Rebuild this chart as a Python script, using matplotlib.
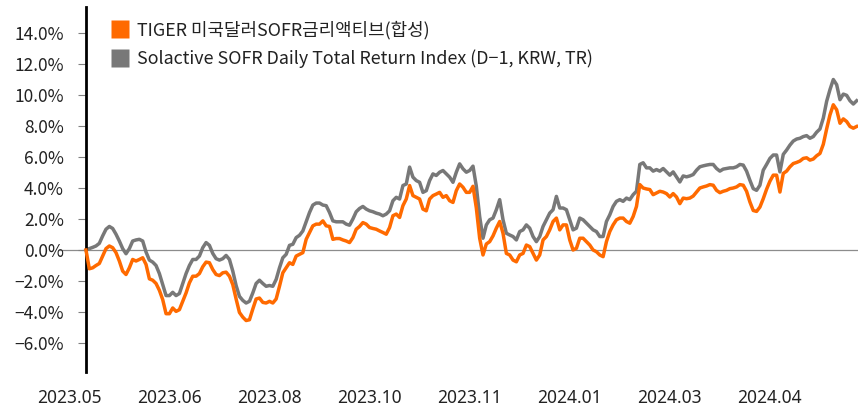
import matplotlib.pyplot as plt
from matplotlib.lines import Line2D
from matplotlib.ticker import FuncFormatter

ORANGE = "#FF6A00"
GRAY = "#787878"

# daily cumulative return (%)
tiger = [
    0.00, -1.21, -1.15, -1.00, -0.87, -0.39, 0.09, 0.26, 0.15, -0.17,
    -0.71, -1.36, -1.58, -1.15, -0.61, -0.71, -0.61, -0.50, -0.93, -1.86,
    -1.95, -2.16, -2.60, -3.20, -4.11, -4.11, -3.74, -3.96, -3.85, -3.31,
    -2.77, -2.12, -1.69, -1.69, -1.52, -1.08, -0.78, -0.82, -1.26, -1.58,
    -1.65, -1.47, -1.43, -1.69, -2.23, -3.16, -4.03, -4.33, -4.55, -4.50,
    -3.81, -3.16, -3.10, -3.38, -3.42, -3.31, -3.42, -3.16, -2.34,
    -1.47, -1.15, -0.82, -0.93, -0.39, -0.28, -0.17, 0.69, 1.13, 1.56,
    1.67, 1.67, 1.88, 1.56, 1.52, 0.69, 0.74, 0.74, 0.65, 0.58,
    0.48, 0.80, 1.34, 1.52, 1.77, 1.67, 1.45, 1.39, 1.34, 1.23,
    1.13, 1.02, 1.45, 2.21, 2.32, 2.10, 2.86, 3.29, 4.16, 3.51,
    3.40, 3.29, 2.64, 2.53, 3.29, 3.51, 3.61, 3.72, 3.40, 3.51,
    3.18, 3.07, 3.83, 4.26, 4.05, 3.72, 3.72,
    4.11, 2.71, 0.76, -0.32, 0.39, 0.54, 0.91, 1.41, 1.84, 1.08,
    -0.22, -0.32, -0.65, -0.76, -0.32, -0.22, 0.32, 0.22, -0.22, -0.65,
    -0.32, 0.65, 0.87, 1.30, 1.84, 2.06, 1.30, 1.62, 1.62, 0.65,
    0.00, 0.11, 0.76, 0.76, 0.54, 0.32, 0.00, -0.11, -0.32, -0.43,
    0.54, 1.19, 1.62, 1.95, 2.06, 2.06, 1.84, 1.73, 2.16, 2.81,
    4.22, 4.00, 3.94, 3.90, 3.57, 3.68, 3.79,
    3.74, 3.64, 3.42, 3.64, 3.42, 2.99, 3.35, 3.31, 3.35, 3.48,
    3.74, 4.00, 4.07, 4.13, 4.22, 4.18, 3.85, 3.70, 3.79, 3.85,
    3.96, 4.00, 4.07, 4.22, 4.18, 3.79, 3.10, 2.55, 2.49, 2.77,
    3.31, 3.92, 4.44, 4.83, 4.83, 3.74, 4.94, 5.09, 5.37, 5.58,
    5.65, 5.74, 5.91, 5.95, 5.80, 5.87, 6.08, 6.23, 6.82, 7.81,
    8.72, 9.37, 9.05, 8.18, 8.46, 8.29, 7.97, 7.86, 7.97,
]

solactive = [
    0.00, 0.09, 0.17, 0.26, 0.43, 0.91, 1.34, 1.52, 1.39, 1.02,
    0.58, 0.09, -0.24, 0.09, 0.58, 0.65, 0.69, 0.58, -0.13, -0.65,
    -0.78, -1.00, -1.52, -2.23, -2.94, -2.94, -2.73, -2.94, -2.81, -2.16,
    -1.52, -1.00, -0.61, -0.61, -0.39, 0.15, 0.48, 0.30, -0.22, -0.56,
    -0.65, -0.56, -0.35, -0.61, -1.36, -2.29, -2.99, -3.25, -3.42, -3.31,
    -2.77, -2.16, -1.95, -2.16, -2.34, -2.29, -2.34, -1.90, -1.15,
    -0.50, -0.28, 0.30, 0.37, 0.80, 0.95, 1.23, 1.82, 2.42, 2.90,
    3.03, 3.03, 2.90, 2.86, 2.42, 1.88, 1.82, 1.82, 1.82, 1.67,
    1.60, 2.00, 2.47, 2.68, 2.81, 2.64, 2.53, 2.47, 2.38, 2.32,
    2.21, 2.32, 2.53, 3.18, 3.40, 3.29, 4.16, 4.26, 5.35, 4.70,
    4.48, 4.37, 3.72, 3.83, 4.48, 4.91, 4.81, 5.02, 5.13, 4.91,
    4.70, 4.37, 5.02, 5.56, 5.24, 5.02, 5.13,
    5.41, 4.11, 2.16, 0.76, 1.62, 1.95, 2.06, 2.60, 3.25, 1.95,
    1.08, 0.97, 0.87, 0.65, 1.19, 1.30, 1.62, 1.41, 0.87, 0.54,
    0.87, 1.52, 1.95, 2.38, 2.60, 3.46, 2.71, 2.71, 2.60, 1.95,
    1.30, 1.41, 2.06, 1.95, 1.73, 1.52, 1.30, 1.19, 0.87, 0.87,
    1.84, 2.27, 2.81, 3.14, 3.25, 3.14, 3.35, 3.25, 3.57, 3.79,
    5.52, 5.63, 5.30, 5.30, 5.09, 5.19, 5.09,
    5.26, 5.04, 4.83, 5.04, 4.72, 4.39, 4.78, 4.72, 4.78, 4.87,
    5.15, 5.37, 5.43, 5.48, 5.52, 5.52, 5.26, 5.09, 5.22, 5.26,
    5.30, 5.30, 5.37, 5.52, 5.48, 5.09, 4.50, 3.96, 3.85, 4.18,
    5.15, 5.52, 5.91, 6.13, 6.13, 5.04, 6.17, 6.45, 6.77, 7.03,
    7.16, 7.21, 7.32, 7.38, 7.21, 7.32, 7.60, 7.81, 8.51, 9.59,
    10.35, 11.00, 10.67, 9.70, 10.06, 9.98, 9.63, 9.42, 9.63,
]

x_labels = ["2023.05", "2023.06", "2023.08", "2023.10",
            "2023.11", "2024.01", "2024.03", "2024.04"]
legend_labels = ["TIGER 미국달러SOFR금리액티브(합성)",
                 "Solactive SOFR Daily Total Return Index (D\u22121, KRW, TR)"]

plt.rcParams["font.family"] = ["Noto Sans CJK KR", "DejaVu Sans"]

fig = plt.figure(figsize=(8.58, 4.09), dpi=100)
ax = fig.add_axes([0.0691, 0.0905, 0.9309, 0.8924])

days = range(len(tiger))
ax.axhline(0, color="#8C8C8C", lw=0.9, zorder=1)
ax.plot(days, solactive, color=GRAY, lw=2.5, zorder=2, solid_joinstyle="round")
ax.plot(days, tiger, color=ORANGE, lw=2.5, zorder=3, solid_joinstyle="round")

ax.set_xlim(-8, len(tiger) - 0.6)
ax.set_ylim(-7.87, 15.68)

# y axis sits at the first data point, labels hang to the left of it
ax.spines["left"].set_position(("data", 0))
ax.spines["left"].set_linewidth(2.0)
ax.spines[["top", "right", "bottom"]].set_visible(False)

ax.set_yticks(range(-6, 15, 2))
ax.yaxis.set_major_formatter(FuncFormatter(lambda v, p: f"{v:.1f}%".replace("-", "\u2212")))
ax.tick_params(axis="y", length=6, width=0.8, color="#808080", labelsize=12.5, pad=10, labelcolor="#222222")

ax.set_xticks([-5 + 30 * i for i in range(len(x_labels))], x_labels)
ax.tick_params(axis="x", length=0, labelsize=12.5, pad=12, labelcolor="#222222")
for lbl in ax.get_xticklabels():
    lbl.set_fontfamily(["Noto Sans", "DejaVu Sans"])

handles = [
    Line2D([0], [0], marker="s", color="none", markerfacecolor=ORANGE, markeredgecolor="none", markersize=13),
    Line2D([0], [0], marker="s", color="none", markerfacecolor=GRAY, markeredgecolor="none", markersize=13),
]
fig.legend(handles, legend_labels, loc="upper left", bbox_to_anchor=(0.129, 0.95),
           frameon=False, fontsize=12.9, handlelength=1.0, handletextpad=0.45,
           labelspacing=0.58, borderpad=0, borderaxespad=0, labelcolor="#222222")

fig.savefig("out.png", dpi=100, facecolor="white")
